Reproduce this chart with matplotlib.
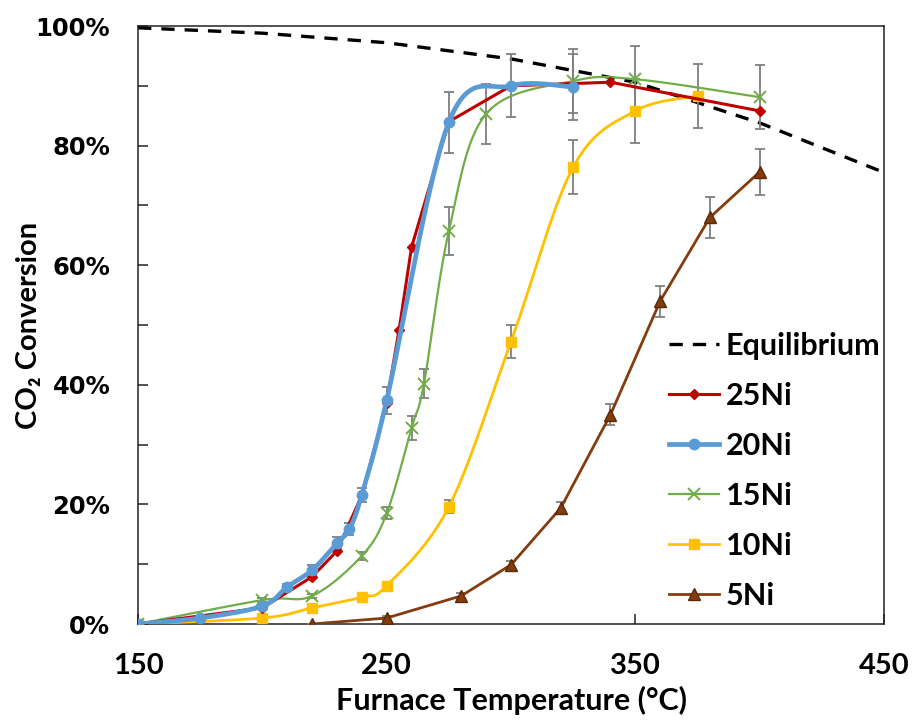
import matplotlib
matplotlib.use('Agg')
import matplotlib.pyplot as plt
from matplotlib.lines import Line2D
from matplotlib.ticker import MultipleLocator, FixedLocator, FuncFormatter
import numpy as np

# data (conversion in %)
eq_T = [150, 200, 250, 300, 350, 400, 450]
eq_X = [99.7, 98.8, 97.2, 94.5, 90.6, 83.8, 75.5]

ni25_T = [150, 200, 220, 230, 240, 250, 255, 260, 275, 300, 340, 400]
ni25_X = [0.0, 2.7, 7.9, 12.2, 21.5, 37.0, 49.2, 63.0, 84.0, 90.0, 90.6, 85.8]

ni20_T = [150, 175, 200, 210, 220, 230, 235, 240, 250, 275, 300, 325]
ni20_X = [0.0, 1.0, 3.0, 6.2, 9.0, 13.5, 15.9, 21.6, 37.4, 83.9, 90.0, 89.8]
ni20_E = [0.0, 0.2, 0.3, 0.5, 0.8, 1.0, 1.0, 1.2, 2.2, 5.1, 5.3, 5.5]

ni15_T = [150, 200, 220, 240, 250, 260, 265, 275, 290, 325, 350, 400]
ni15_X = [0.0, 4.0, 4.7, 11.4, 18.5, 32.8, 40.2, 65.7, 85.3, 90.8, 91.1, 88.1]
ni15_E = [0.0, 0.3, 0.4, 0.7, 1.0, 2.0, 2.4, 4.0, 5.0, 5.3, 5.5, 5.4]

ni10_T = [150, 200, 220, 240, 250, 275, 300, 325, 350, 375]
ni10_X = [0.0, 1.0, 2.7, 4.5, 6.4, 19.6, 47.2, 76.4, 85.8, 88.3]
ni10_E = [0.0, 0.2, 0.3, 0.4, 0.5, 1.1, 2.8, 4.5, 5.3, 5.3]

ni5_T = [220, 250, 280, 300, 320, 340, 360, 380, 400]
ni5_X = [0.0, 1.0, 4.7, 9.9, 19.4, 35.0, 54.0, 68.0, 75.6]
ni5_E = [0.0, 0.3, 0.5, 0.6, 1.0, 1.8, 2.6, 3.4, 3.8]

x_ticks = [150, 250, 350, 450]

GRAY = '#7f7f7f'


def smooth(x, y, n=30):
    # excel style bezier smoothing of a polyline
    p = np.column_stack([x, y]).astype(float)
    pp = np.vstack([p[:1], p, p[-1:]])
    t = np.linspace(0, 1, n)[1:, None]
    out = [p[:1]]
    for i in range(len(p) - 1):
        p0, p3 = p[i], p[i + 1]
        c1 = p0 + (pp[i + 2] - pp[i]) / 6.
        c2 = p3 - (pp[i + 3] - pp[i + 1]) / 6.
        out.append((1 - t)**3 * p0 + 3 * (1 - t)**2 * t * c1 + 3 * (1 - t) * t**2 * c2 + t**3 * p3)
    s = np.vstack(out)
    return s[:, 0], s[:, 1]


fig = plt.figure(figsize=(9.13, 7.2), dpi=100)
ax = fig.add_axes([138 / 913., 96 / 720., 746 / 913., 598 / 720.])

ax.plot(eq_T, eq_X, color='black', lw=2.4, dashes=(4, 3), zorder=2)

# error bars
for T, X, E in [(ni20_T, ni20_X, ni20_E), (ni15_T, ni15_X, ni15_E),
                (ni10_T, ni10_X, ni10_E), (ni5_T, ni5_X, ni5_E)]:
    ax.errorbar(T, X, yerr=E, fmt='none', ecolor=GRAY, elinewidth=1.3,
                capsize=3.5, capthick=1.3, zorder=3)

# 5Ni
ax.plot(ni5_T, ni5_X, color='#843c0c', lw=2.0, zorder=4)
ax.plot(ni5_T, ni5_X, ls='none', marker='^', ms=8, color='#843c0c',
        mec='#5a2a08', zorder=5)
# 10Ni
sx, sy = smooth(ni10_T, ni10_X)
ax.plot(sx, sy, color='#ffc000', lw=2.0, zorder=4)
ax.plot(ni10_T, ni10_X, ls='none', marker='s', ms=7, color='#ffc000', zorder=5)
# 15Ni
sx, sy = smooth(ni15_T, ni15_X)
ax.plot(sx, sy, color='#70ad47', lw=1.6, zorder=6)
ax.plot(ni15_T, ni15_X, ls='none', marker='x', ms=8, mew=1.4, color='#70ad47', zorder=7)
# 25Ni
ax.plot(ni25_T, ni25_X, color='#c00000', lw=2.2, zorder=8)
ax.plot(ni25_T, ni25_X, ls='none', marker='D', ms=5, color='#c00000', zorder=9)
# 20Ni
sx, sy = smooth(ni20_T, ni20_X)
ax.plot(sx, sy, color='#5b9bd5', lw=3.4, zorder=10)
ax.plot(ni20_T, ni20_X, ls='none', marker='o', ms=7.5, color='#5b9bd5', zorder=11)

ax.set_xlim(150, 450)
ax.set_ylim(0, 100)
ax.xaxis.set_major_locator(FixedLocator(x_ticks))
ax.yaxis.set_major_locator(MultipleLocator(20))
ax.yaxis.set_minor_locator(MultipleLocator(10))
ax.yaxis.set_major_formatter(FuncFormatter(lambda v, p: '%d%%' % v))

for s in ax.spines.values():
    s.set_linewidth(1.1)
    s.set_color('#222222')
ax.tick_params(axis='both', which='both', direction='in', length=7, width=1.1, color='#222222')
ax.tick_params(axis='y', pad=20)
ax.tick_params(axis='x', pad=21)
for lab in ax.get_yticklabels():
    lab.set_fontfamily('DejaVu Sans')
    lab.set_fontweight('bold')
    lab.set_fontsize(17.5)
for lab in ax.get_xticklabels():
    lab.set_fontfamily('Lato')
    lab.set_fontweight('bold')
    lab.set_fontsize(21)

ax.set_xlabel('Furnace Temperature (°C)', family=['Lato', 'DejaVu Sans'], fontweight='bold',
              fontsize=22)
ax.xaxis.set_label_coords(0.5, -62 / 598.)
ax.set_ylabel('CO₂ Conversion', family=['Lato', 'DejaVu Sans'], fontweight='bold',
              fontsize=21)
ax.yaxis.set_label_coords(-96 / 746., 0.5)

handles = [
    Line2D([], [], color='black', lw=2.4, dashes=(4, 3)),
    Line2D([], [], color='#c00000', lw=2.2, marker='D', ms=5),
    Line2D([], [], color='#5b9bd5', lw=3.4, marker='o', ms=7.5),
    Line2D([], [], color='#70ad47', lw=1.6, marker='x', ms=8, mew=1.4),
    Line2D([], [], color='#ffc000', lw=2.0, marker='s', ms=7),
    Line2D([], [], color='#843c0c', lw=2.0, marker='^', ms=8, mec='#5a2a08'),
]
labels = ['Equilibrium', '25Ni', '20Ni', '15Ni', '10Ni', '5Ni']
leg = fig.legend(handles, labels, loc='upper left', bbox_to_anchor=(669 / 913., 1 - 332 / 720.),
                 frameon=False, handlelength=1.65, handletextpad=0.2, labelspacing=0.72,
                 borderaxespad=0, borderpad=0,
                 prop={'family': 'Lato', 'weight': 'bold', 'size': 22})

fig.savefig('out.png', dpi=100)
